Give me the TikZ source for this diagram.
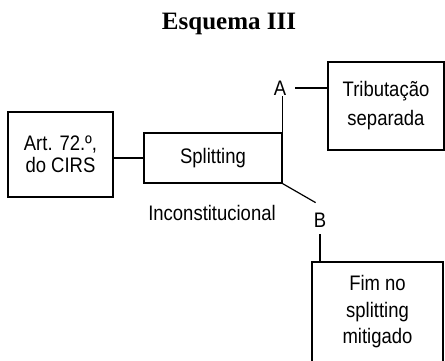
\documentclass[tikz,border=0pt]{standalone}
\usepackage{fontspec}
\newfontfamily\sans[FakeStretch=0.88]{Liberation Sans}
\newfontfamily\titlefont{Liberation Serif}
\begin{document}
\begin{tikzpicture}[x=1pt,y=-1pt,
  box/.style={draw, line width=1.2pt, inner sep=0pt, align=center, font=\sans\fontsize{21}{24}\selectfont},
  lbl/.style={font=\sans\fontsize{21}{22}\selectfont, inner sep=1pt},
  conn/.style={line width=1.2pt}]
\clip (0,0) rectangle (445,360);
\node[font=\titlefont\bfseries\fontsize{25}{28}\selectfont] (title) at (229,24) {Esquema III};
\node[box, minimum width=105pt, minimum height=85pt] (art) at (60.5,154.5) {Art. 72.º,\\[-2pt] do CIRS};
\node[box, minimum width=138pt, minimum height=50pt] (split) at (213,158) {Splitting};
\node[box, minimum width=116pt, minimum height=88pt] (trib) at (386,106) {Tributação\\[5pt] separada};
\node[box, minimum width=131pt, minimum height=100pt] (fim) at (377.5,312) {Fim no\\[3pt] splitting\\[2pt] mitigado};
\node[lbl] (A) at (280,88) {A};
\node[lbl] (B) at (320,220) {B};
\node[lbl] (inc) at (212,213) {Inconstitucional};
\draw[conn] (split.west) -- (split.west -| art.east);
\draw[conn] (split.north east) -- (split.north east |- A.south);
\draw[conn, shorten <=8pt] (A.east) -- (A.east -| trib.west);
\draw[conn] (split.south east) -- ++(33,19);
\draw[conn, shorten <=6pt] (B.south) -- (B.south |- fim.north);
\end{tikzpicture}
\end{document}
